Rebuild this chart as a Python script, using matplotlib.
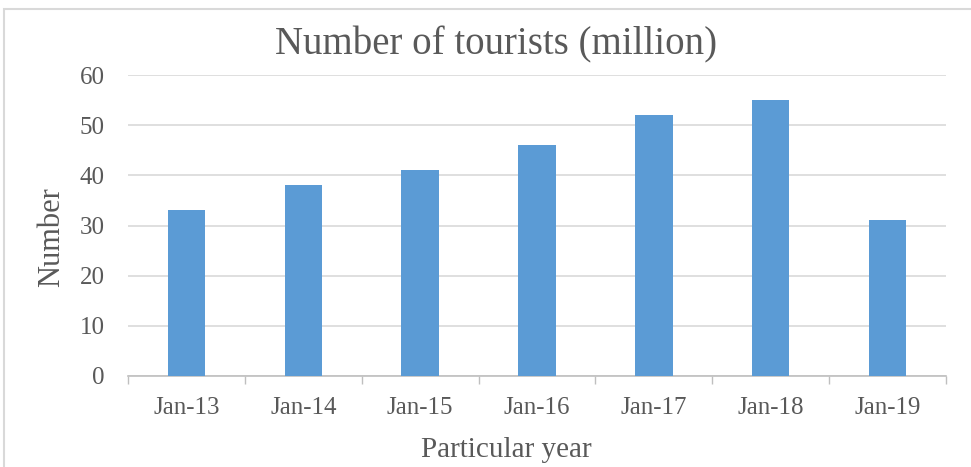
import matplotlib
matplotlib.use("Agg")
import matplotlib.pyplot as plt
from matplotlib.patches import Rectangle
import numpy as np

categories = ["Jan-13", "Jan-14", "Jan-15", "Jan-16", "Jan-17", "Jan-18", "Jan-19"]
values = [33, 38, 41, 46, 52, 55, 31]
yticks = [0, 10, 20, 30, 40, 50, 60]

plt.rcParams['font.family'] = ['Liberation Serif', 'DejaVu Serif']
W, H = 971, 467
fig = plt.figure(figsize=(W/100, H/100), dpi=100)
ax = fig.add_axes([128/W, 1-376/H, (946-128)/W, (376-75)/H])

text_c = '#595959'
x = np.arange(len(categories))
ax.bar(x, values, width=0.32, color='#5B9BD5', zorder=3)
ax.set_xlim(-0.5, len(categories)-0.5)
ax.set_ylim(0, 60)
ax.set_yticks(yticks)
ax.set_yticklabels([str(v) for v in yticks], fontsize=18, color=text_c)
ax.set_xticks(x)
ax.set_xticklabels(categories, fontsize=18, color=text_c)
ax.set_xticks(np.arange(-0.5, len(categories)), minor=True)
ax.tick_params(axis='x', which='major', length=0, pad=15)
ax.tick_params(axis='x', which='minor', length=6, color='#BFBFBF', width=1)
ax.tick_params(axis='y', length=0, pad=17)
ax.grid(axis='y', color='#D9D9D9', linewidth=1.2, zorder=0)
for s in ['top', 'right', 'left']:
    ax.spines[s].set_visible(False)
ax.spines['bottom'].set_color('#BFBFBF')
ax.spines['bottom'].set_linewidth(1.2)

fig.text(496/W, 1-45/H, "Number of tourists (million)", fontsize=28, color=text_c,
         ha='center', va='center')
fig.text(506/W, 1-450/H, "Particular year", fontsize=21, color=text_c,
         ha='center', va='center')
fig.text(52/W, 1-237/H, "Number", fontsize=22, color=text_c, rotation=90,
         ha='center', va='center')

fig.patches.append(Rectangle((4/W, -0.05), 1.1, 1-9/H+0.05, transform=fig.transFigure,
                             fill=False, edgecolor='#D9D9D9', linewidth=1.5))

fig.savefig("out.png", dpi=100)
